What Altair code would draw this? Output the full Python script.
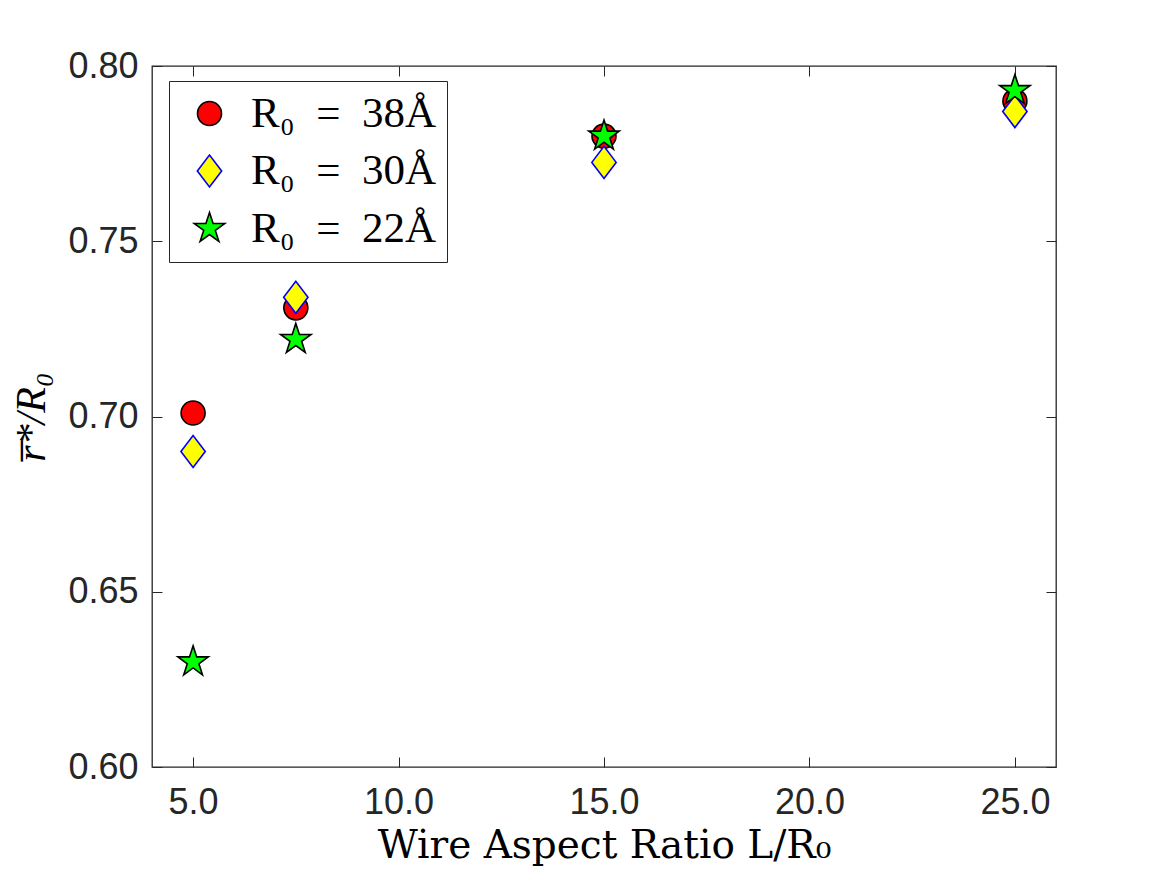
import altair as alt
import pandas as pd

# ---- data ----
aspect = [5.0, 7.5, 15.0, 25.0]
r38 = [0.701, 0.731, 0.780, 0.790]
r30 = [0.690, 0.734, 0.7725, 0.787]
r22 = [0.630, 0.722, 0.780, 0.793]
series_names = ["R₀\u2002=\u200238Å", "R₀\u2002=\u200230Å", "R₀\u2002=\u200222Å"]
x_ticks = [5, 10, 15, 20, 25]
y_ticks = [0.60, 0.65, 0.70, 0.75, 0.80]

rows = []
for i, (name, vals) in enumerate(zip(series_names, [r38, r30, r22])):
    for a, v in zip(aspect, vals):
        rows.append({"series": name, "aspect": a, "r": v, "idx": i})
df = pd.DataFrame(rows)

# shapes (unit box -1..1)
circle_path = "M-0.75,0A0.75,0.75 0 1,0 0.75,0A0.75,0.75 0 1,0 -0.75,0Z"
diamond_path = "M-0.76,0L0,-1L0.76,0L0,1Z"
star_path = ("M0,-1L0.2245,-0.309L0.951,-0.309L0.3633,0.118L0.5878,0.809"
             "L0,0.382L-0.5878,0.809L-0.3633,0.118L-0.951,-0.309L-0.2245,-0.309Z")

fills = ["#ff0000", "#ffff00", "#00ff00"]
strokes = ["#000000", "#0000ff", "#000000"]

xdom = [4, 26]
ydom = [0.60, 0.80]

base = alt.Chart(df)

legend = alt.Legend(
    orient="none", legendX=17, legendY=15,
    title=None,
    labelFont="Liberation Serif", labelFontSize=43, labelColor="#000000",
    symbolSize=1024, symbolStrokeWidth=1.6, symbolOffset=8,
    labelOffset=20, rowPadding=13.5,
    padding=11, strokeColor="#262626", fillColor="#ffffff",
    labelLimit=400,
)

points = base.mark_point(filled=True, size=1024, strokeWidth=1.6, opacity=1).encode(
    x=alt.X("aspect:Q", scale=alt.Scale(domain=xdom, nice=False, zero=False),
            axis=alt.Axis(values=x_ticks, format=".1f", orient="bottom", grid=False,
                          domain=False, tickSize=10, offset=-10, tickColor="#262626",
                          labelPadding=18, labelFont="Liberation Sans", labelFontSize=36,
                          labelColor="#262626", title="Wire Aspect Ratio L/R₀",
                          titleFont="DejaVu Serif", titleFontSize=39,
                          titleFontWeight="normal", titleColor="#000000", titlePadding=6)),
    y=alt.Y("r:Q", scale=alt.Scale(domain=ydom, nice=False, zero=False),
            axis=alt.Axis(values=y_ticks, format=".2f", orient="left", grid=False,
                          domain=False, tickSize=10, offset=-10, tickColor="#262626",
                          labelPadding=14, labelFont="Liberation Sans", labelFontSize=36,
                          labelColor="#262626", title="r̅*/R₀",
                          titleFont="Liberation Serif", titleFontSize=42,
                          titleFontStyle="italic", titleFontWeight="normal",
                          titleColor="#000000", titlePadding=14)),
    fill=alt.Fill("series:N", scale=alt.Scale(domain=series_names, range=fills), legend=legend),
    stroke=alt.Stroke("series:N", scale=alt.Scale(domain=series_names, range=strokes), legend=legend),
    shape=alt.Shape("series:N", scale=alt.Scale(domain=series_names,
                                                range=[circle_path, diamond_path, star_path]),
                    legend=legend),
    order=alt.Order("idx:Q"),
)

frame = base.mark_point(opacity=0).encode(
    x=alt.X("aspect:Q", scale=alt.Scale(domain=xdom, nice=False, zero=False),
            axis=alt.Axis(values=x_ticks, orient="top", grid=False, domain=False,
                          labels=False, tickSize=10, offset=-10, tickColor="#262626",
                          title="")),
    y=alt.Y("r:Q", scale=alt.Scale(domain=ydom, nice=False, zero=False),
            axis=alt.Axis(values=y_ticks, orient="right", grid=False, domain=False,
                          labels=False, tickSize=10, offset=-10, tickColor="#262626",
                          title="")),
)

chart = alt.layer(points, frame).resolve_axis(x="independent", y="independent").properties(
    width=904, height=701,
    autosize=alt.AutoSizeParams(type="none"),
    padding={"left": 144, "top": 58, "right": 90, "bottom": 100},
    background="#ffffff",
).configure_view(stroke="#262626", strokeWidth=1.3)

chart.save("out.html", embed_options={"renderer": "svg", "actions": False})
